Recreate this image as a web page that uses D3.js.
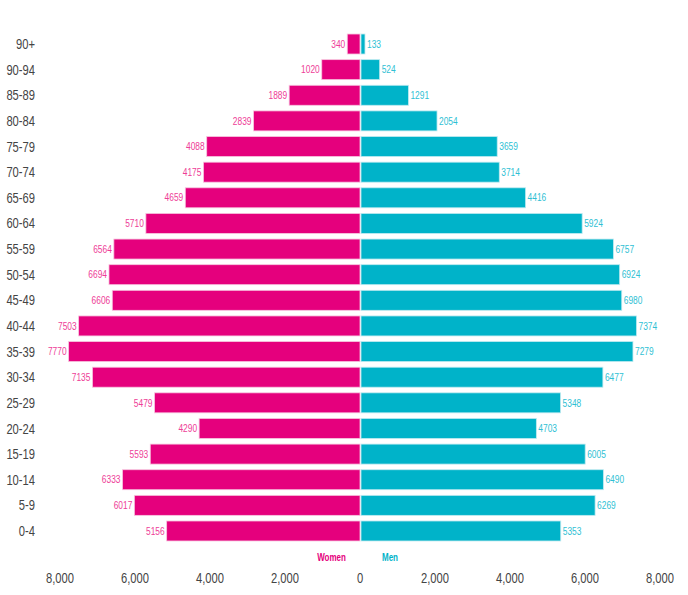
<!DOCTYPE html>
<html lang="en">
<head>
<meta charset="UTF-8">
<title>Population pyramid</title>
<script src="https://cdn.jsdelivr.net/npm/d3@7"></script>
<style>
	body { margin: 0; background: #fff; }
	text { font-family: "Liberation Sans", Arial, sans-serif; }
</style>
</head>
<body>
<svg width="688" height="595"></svg>
<script>
	// age groups, top to bottom
	var ages = ["90+", "90-94", "85-89", "80-84", "75-79", "70-74", "65-69", "60-64", "55-59", "50-54",
		"45-49", "40-44", "35-39", "30-34", "25-29", "20-24", "15-19", "10-14", "5-9", "0-4"];
	var women = [340, 1020, 1889, 2839, 4088, 4175, 4659, 5710, 6564, 6694,
		6606, 7503, 7770, 7135, 5479, 4290, 5593, 6333, 6017, 5156];
	var men = [133, 524, 1291, 2054, 3659, 3714, 4416, 5924, 6757, 6924,
		6980, 7374, 7279, 6477, 5348, 4703, 6005, 6490, 6269, 5353];
	var ticks = [-8000, -6000, -4000, -2000, 0, 2000, 4000, 6000, 8000];

	var pink = "#e5007d", teal = "#00b3c9";
	var narrow = 0.8; // squeeze text to look like a narrow face
	var svg = d3.select("svg");

	var x = d3.scaleLinear().domain([-8000, 8000]).range([60, 660]);
	var y = d3.scaleBand().domain(ages).range([31.2, 543.8])
		.paddingInner(0.22).paddingOuter(0.11);

	var rows = ages.map(function(a, i) { return { age: a, w: women[i], m: men[i] }; });

	function at(px, py) { return "translate(" + px + "," + py + ") scale(" + narrow + ",1)"; }

	// women bars (left)
	svg.append("g").selectAll("rect")
		.data(rows).enter().append("rect")
		.attr("x", d => x(-d.w))
		.attr("y", d => y(d.age))
		.attr("width", d => x(0) - x(-d.w))
		.attr("height", y.bandwidth())
		.attr("fill", pink)
		.attr("stroke", "#f7c6df")
		.attr("stroke-width", 0.8);

	// men bars (right)
	svg.append("g").selectAll("rect")
		.data(rows).enter().append("rect")
		.attr("x", x(0) + 1)
		.attr("y", d => y(d.age))
		.attr("width", d => x(d.m) - x(0) - 1)
		.attr("height", y.bandwidth())
		.attr("fill", teal)
		.attr("stroke", "#bfeaf0")
		.attr("stroke-width", 0.8);

	// value labels
	svg.append("g").selectAll("text")
		.data(rows).enter().append("text")
		.attr("transform", d => at(x(-d.w) - 2, y(d.age) + y.bandwidth() / 2))
		.attr("dy", "0.35em")
		.attr("text-anchor", "end")
		.attr("font-size", 10.5)
		.attr("fill", "#ee3d97")
		.text(d => d.w);

	svg.append("g").selectAll("text")
		.data(rows).enter().append("text")
		.attr("transform", d => at(x(d.m) + 2, y(d.age) + y.bandwidth() / 2))
		.attr("dy", "0.35em")
		.attr("font-size", 10.5)
		.attr("fill", "#2fbfd4")
		.text(d => d.m);

	// age labels
	svg.append("g").selectAll("text")
		.data(ages).enter().append("text")
		.attr("transform", d => at(35, y(d) + y.bandwidth() / 2))
		.attr("dy", "0.36em")
		.attr("text-anchor", "end")
		.attr("font-size", 14)
		.attr("fill", "#444")
		.text(d => d);

	// bottom axis, labels only
	var xAxis = d3.axisBottom(x).tickValues(ticks).tickSize(0)
		.tickFormat(d => d3.format(",")(Math.abs(d)));
	var ax = svg.append("g").attr("transform", "translate(0,573)").call(xAxis);
	ax.select(".domain").remove();
	ax.selectAll("text")
		.attr("y", 0).attr("dy", "0.36em")
		.attr("transform", "scale(" + narrow + ",1)")
		.attr("font-size", 14).attr("fill", "#444")
		.style("font-family", "'Liberation Sans', Arial, sans-serif");
	// scale about the tick centre, not the axis origin
	ax.selectAll(".tick").attr("transform", d => "translate(" + x(d) + ",5)");

	// legend
	svg.append("text").attr("transform", at(331.5, 557)).attr("dy", "0.35em")
		.attr("text-anchor", "middle").attr("font-size", 10).attr("font-weight", "bold")
		.attr("fill", pink).text("Women");
	svg.append("text").attr("transform", at(390, 557)).attr("dy", "0.35em")
		.attr("text-anchor", "middle").attr("font-size", 10).attr("font-weight", "bold")
		.attr("fill", teal).text("Men");
</script>
</body>
</html>
